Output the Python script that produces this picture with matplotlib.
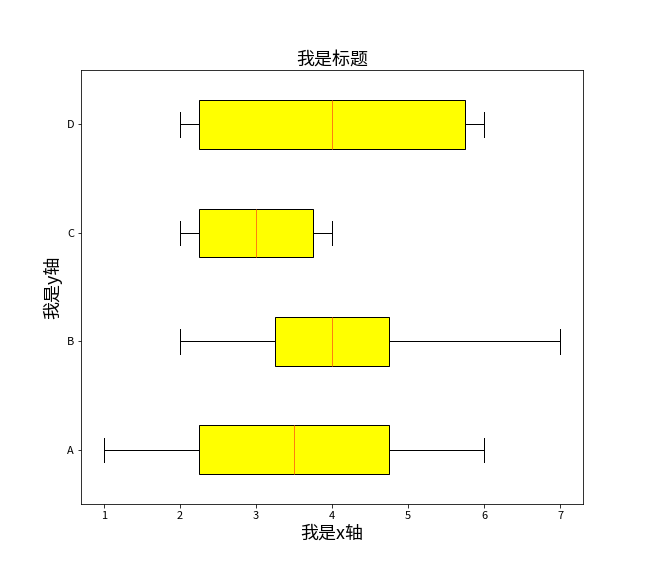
import matplotlib
matplotlib.use('Agg')
import matplotlib.pyplot as plt

plt.rcParams['font.family'] = ['Noto Sans CJK SC', 'DejaVu Sans']

labels = ['A', 'B', 'C', 'D']
data_a = [1, 2, 3, 4, 5, 6]
data_b = [2, 3, 4, 4, 5, 7]
data_c = [2, 2, 3, 3, 4, 4]
data_d = [2, 2, 3, 5, 6, 6]

fig = plt.figure(figsize=(9, 8), dpi=72)
ax = fig.add_subplot(111)
fig.subplots_adjust(left=0.125, right=0.9, top=0.878, bottom=0.125)

ax.boxplot([data_a, data_b, data_c, data_d], vert=False, patch_artist=True,
	tick_labels=labels, boxprops=dict(facecolor='yellow'))

ax.set_title('我是标题', fontsize=18)
ax.set_xlabel('我是x轴', fontsize=18)
ax.set_ylabel('我是y轴', fontsize=18)
ax.tick_params(labelsize=11)

fig.savefig('out.png', dpi=72)
